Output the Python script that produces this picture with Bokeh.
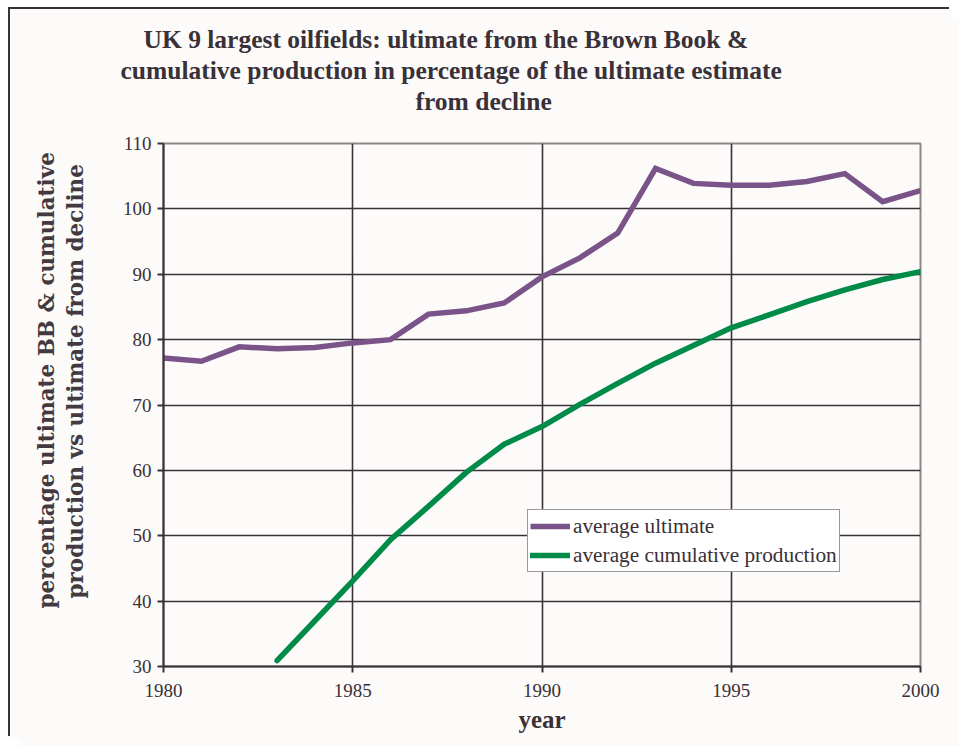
from bokeh.plotting import figure
from bokeh.models import FixedTicker, Legend, LegendItem, Title, LinearAxis
from bokeh.embed import file_html
from bokeh.resources import INLINE

# ---- data ----
years_ultimate = list(range(1980, 2001))
avg_ultimate = [77.2, 76.7, 78.9, 78.6, 78.8, 79.5, 80.0, 83.9, 84.4, 85.6,
                89.6, 92.5, 96.3, 106.2, 103.9, 103.6, 103.6, 104.2, 105.4, 101.1, 102.8]
years_cum = list(range(1983, 2001))
avg_cum_prod = [30.9, 37.0, 43.1, 49.4, 54.5, 59.7, 64.0, 66.7, 70.1, 73.3,
                76.4, 79.1, 81.8, 83.8, 85.8, 87.6, 89.2, 90.4]
x_ticks = [1980, 1985, 1990, 1995, 2000]
y_ticks = [30, 40, 50, 60, 70, 80, 90, 100, 110]
title_lines = ["UK  9 largest oilfields: ultimate from the Brown Book &",
               "cumulative production in percentage of the ultimate estimate",
               "from decline"]
ylabel_lines = ["percentage ultimate BB & cumulative",
                "production vs ultimate from decline"]

BG = "#fcfbfa"
DARK = "#3a3038"
SERIF = "Liberation Serif"

# offset of the figure content (outer frame drawn by a CSS shadow)
OX, OY = 10, 9

p = figure(width=951 - OX, height=738 - OY, output_backend="svg", toolbar_location=None,
           x_range=(1980, 2000), y_range=(30, 110), title=None,
           min_border_left=163 - OX, min_border_right=31,
           min_border_top=143 - OY, min_border_bottom=72)
p.styles = {"transform": f"translate({OX}px, {OY}px)",
            "box-shadow": f"-2px -2px 0px 0px {DARK}, 10px 10px 0px 0px {BG}"}
p.background_fill_color = BG
p.border_fill_color = BG
p.outline_line_color = "#8e8884"
p.outline_line_width = 2

xa = p.below[0]
ya = p.left[0]
xa.ticker = FixedTicker(ticks=x_ticks)
ya.ticker = FixedTicker(ticks=y_ticks)
for ax in (xa, ya):
    ax.axis_line_color = DARK
    ax.axis_line_width = 2
    ax.major_tick_line_color = DARK
    ax.major_tick_line_width = 2
    ax.major_tick_out = 6
    ax.major_tick_in = 0
    ax.minor_tick_line_color = None
    ax.major_label_text_font = SERIF
    ax.major_label_text_font_size = "19px"
    ax.major_label_text_color = DARK

xa.axis_label = "year"
xa.axis_label_text_font = SERIF
xa.axis_label_text_font_style = "bold"
xa.axis_label_text_font_size = "25px"
xa.axis_label_text_color = DARK
xa.axis_label_standoff = 6
xa.major_label_standoff = 11
ya.major_label_standoff = 6


def spacer_axis(size, tick):
    # an axis whose only job is to reserve empty space
    return LinearAxis(ticker=FixedTicker(ticks=[tick]), axis_line_color=None,
                      major_tick_line_color=None, minor_tick_line_color=None,
                      major_tick_out=size, major_tick_in=0, minor_tick_out=0,
                      major_label_overrides={tick: ""},
                      major_label_text_font_size="1px", major_label_standoff=0,
                      axis_label=None)


# top: spacer then title lines (bottom-up)
p.add_layout(spacer_axis(28, 1990), "above")
offsets = [-20, -43, 252]
for txt, off in reversed(list(zip(title_lines, offsets))):
    t = Title(text=txt, align="left", offset=off, text_font=SERIF, text_font_size="25.5px",
              text_font_style="bold", text_color=DARK, standoff=0)
    p.add_layout(t, "above")

# left: spacer then y-label lines (inner line first)
p.add_layout(spacer_axis(31, 70), "left")
yoffsets = [58, 68]
for txt, off in reversed(list(zip(ylabel_lines, yoffsets))):
    t = Title(text=txt, align="left", offset=off, text_font="DejaVu Serif", text_font_size="21.5px",
              text_font_style="bold", text_color="#433a40", standoff=2)
    p.add_layout(t, "left")

p.xgrid[0].ticker = FixedTicker(ticks=x_ticks)
p.ygrid[0].ticker = FixedTicker(ticks=y_ticks)
for g in (p.xgrid[0], p.ygrid[0]):
    g.grid_line_color = DARK
    g.grid_line_width = 1.6

r1 = p.line(years_ultimate, avg_ultimate, line_color="#7a5489", line_width=5.5, line_join="miter")
r2 = p.line(years_cum, avg_cum_prod, line_color="#008c48", line_width=5.5, line_cap="round")

legend = Legend(items=[LegendItem(label="average ultimate", renderers=[r1]),
                       LegendItem(label="average cumulative production", renderers=[r2])],
                location=(364, 94), orientation="vertical",
                background_fill_color="white", background_fill_alpha=1,
                border_line_color=DARK, border_line_width=1.5,
                label_text_font=SERIF, label_text_font_size="21.3px", label_text_color=DARK,
                glyph_width=40, glyph_height=28, label_height=28, label_standoff=3,
                padding=2, spacing=1, margin=0)
p.add_layout(legend, "center")

open("out.html", "w").write(file_html(p, INLINE))
